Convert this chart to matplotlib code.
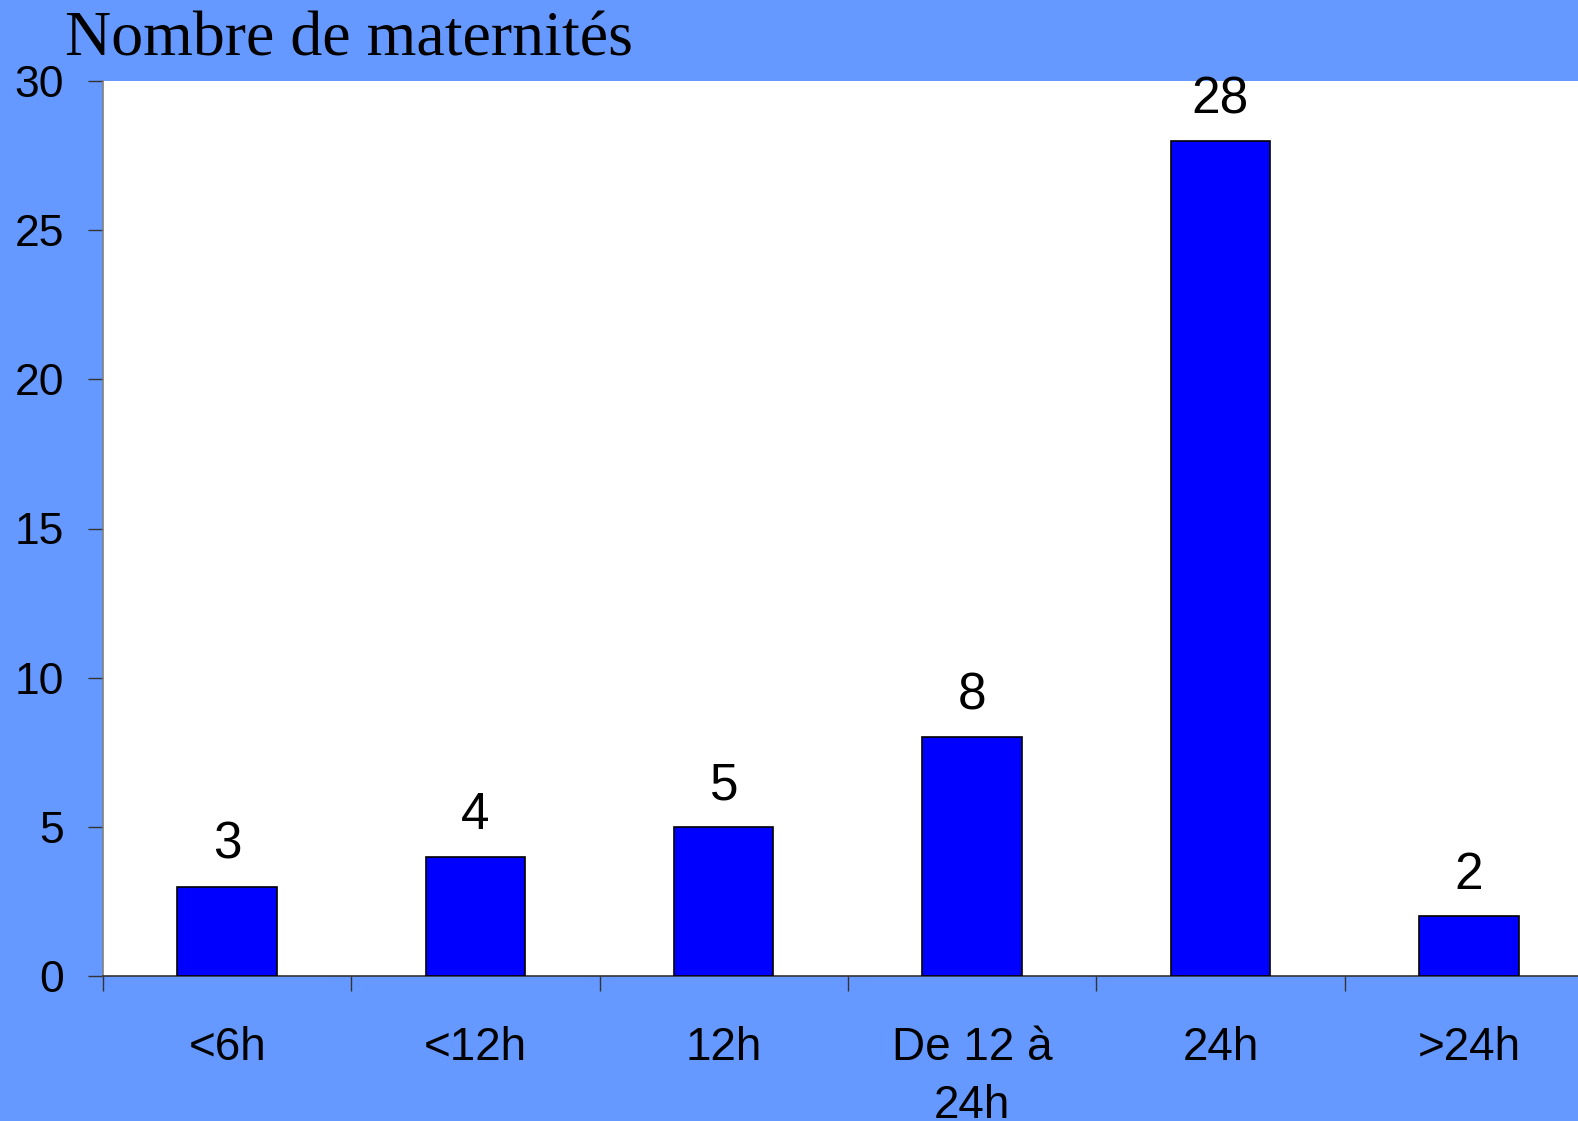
import matplotlib
matplotlib.use("Agg")
import matplotlib.pyplot as plt
import numpy as np

categories = ["<6h", "<12h", "12h", "De 12 à\n24h", "24h", ">24h"]
values = [3, 4, 5, 8, 28, 2]
yticks = [0, 5, 10, 15, 20, 25, 30]
title = "Nombre de maternités"

W, H = 1578, 1121
fig = plt.figure(figsize=(W / 100, H / 100), dpi=100)
fig.patch.set_facecolor("#6699FF")

left, right, top, bottom = 103, 1593, 81, 976
ax = fig.add_axes([left / W, 1 - bottom / H, (right - left) / W, (bottom - top) / H])
ax.set_facecolor("white")

x = np.arange(len(categories))
bars = ax.bar(x, values, width=0.4, color="#0000FF", edgecolor="black", linewidth=1.2, zorder=3)
for xi, v in zip(x, values):
    ax.annotate(str(v), (xi, v), xytext=(0, 12), textcoords="offset points",
                ha="center", va="bottom", fontsize=37, family="Liberation Sans",
                color="black", annotation_clip=False)

ax.set_xlim(-0.5, len(categories) - 0.5)
ax.set_ylim(0, 30)
ax.set_yticks(yticks)
ax.set_yticklabels([str(t) for t in yticks], fontsize=32, family="Liberation Sans")
ax.tick_params(axis="y", direction="out", length=11, width=1, color="#333333", pad=17)

ax.set_xticks(np.arange(len(categories) + 1) - 0.5)
ax.set_xticklabels([])
ax.tick_params(axis="x", which="major", direction="out", length=11, width=1, color="#333333")
ax.set_xticks(x, minor=True)
ax.set_xticklabels(categories, minor=True, fontsize=33, family="Liberation Sans",
                   linespacing=1.4)
ax.tick_params(axis="x", which="minor", length=0, pad=36)

for s in ["top", "right"]:
    ax.spines[s].set_visible(False)
ax.spines["left"].set_color("#808080")
ax.spines["left"].set_linewidth(1.2)
ax.spines["bottom"].set_color("#333333")
ax.spines["bottom"].set_linewidth(1.2)

fig.text(65 / W, 1 - 55 / H, title, ha="left", va="baseline",
         fontsize=46, family="Liberation Serif", color="black")

fig.savefig("out.png", dpi=100, facecolor=fig.get_facecolor())
